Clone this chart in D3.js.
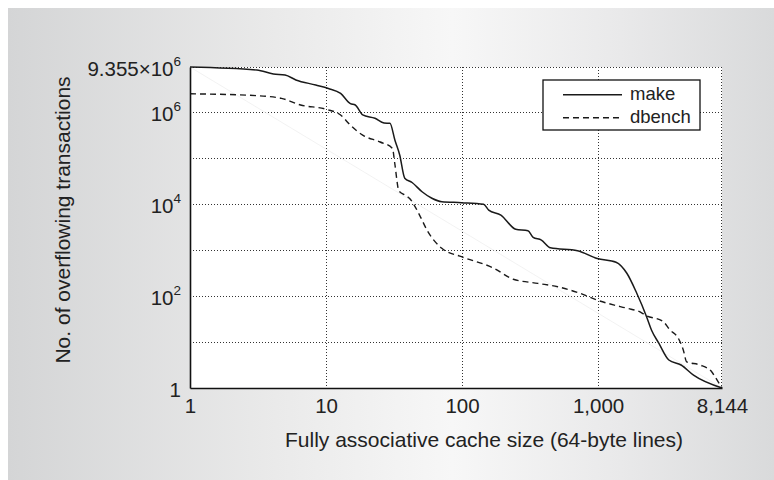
<!DOCTYPE html>
<html><head><meta charset="utf-8">
<script src="https://cdn.jsdelivr.net/npm/d3@7"></script>
<style>body{margin:0;background:#fff}svg{display:block}</style>
</head><body>
<svg id="c" width="774" height="480"></svg>
<script>
// ---- data ----
const makeX = [1, 3.1, 4.1, 5.0, 6.0, 8.4, 10.4, 12.8, 15.1, 16.4, 18.6, 22.9, 26.7, 29.5, 32.1, 34.8, 37.9, 42.9, 50.8, 60, 71, 99, 144, 157, 193, 248, 305, 333, 383, 446, 706, 985, 1355, 1627, 1924, 2275, 2472, 2800, 3311, 4075, 5030, 8144];
const makeY = [9.355e6, 8.04e6, 6.6e6, 6.27e6, 4.9e6, 3.8e6, 3.2e6, 2.5e6, 1.5e6, 1.4e6, 8.5e5, 7.2e5, 5.7e5, 5.6e5, 2.4e5, 1.15e5, 3.6e4, 2.9e4, 1.83e4, 1.32e4, 1.11e4, 1.06e4, 9.8e3, 7.3e3, 5.7e3, 2.8e3, 2.6e3, 1.87e3, 1.63e3, 1.11e3, 960, 650, 540, 310, 114, 35, 18, 9.3, 4.06, 3.16, 1.9, 1];
const dbenchX = [1, 3.1, 4.7, 6.5, 10, 12.8, 15.1, 18.6, 25, 30.8, 32, 34.3, 37.9, 41.2, 48.7, 55.2, 71, 99, 171, 238, 361, 505, 736, 985, 1318, 1627, 2090, 2213, 3015, 3380, 3890, 4230, 4480, 5610, 6840, 7230, 8144];
const dbenchY = [2.45e6, 2.23e6, 1.95e6, 1.4e6, 1.13e6, 8.5e5, 5.1e5, 3.1e5, 2.2e5, 1.6e5, 7.6e4, 1.93e4, 1.56e4, 1.3e4, 5.7e3, 2.7e3, 1.08e3, 710, 400, 230, 187, 158, 114, 81, 63, 54, 43, 38.5, 27.5, 18.2, 12, 6.7, 3.7, 3.16, 2.26, 1.76, 1];
const seriesNames = ["make", "dbench"];
const xDomain = [1, 8144];
const yDomain = [1, 9.355e6];
const xTicks = [1, 10, 100, 1000, 8144];
const xTickLabels = ["1", "10", "100", "1,000", "8,144"];
const yTicks = [1, 100, 1e4, 1e6, 9.355e6];
const yTickBase = ["1", "10", "10", "10", "9.355×10"];
const yTickExp = ["", "2", "4", "6", "6"];
const xGrid = [10, 100, 1000];
const yGrid = [10, 100, 1e3, 1e4, 1e5, 1e6];
const xTitle = "Fully associative cache size (64-byte lines)";
const yTitle = "No. of overflowing transactions";

// ---- layout ----
const W = 774, H = 480;
const m = {left: 190, right: 52, top: 67, bottom: 92};
const svg = d3.select("#c");
const font = "'Liberation Sans', Arial, Helvetica, sans-serif";

const defs = svg.append("defs");
const grad = defs.append("linearGradient").attr("id", "bg").attr("x1", "0").attr("x2", "1").attr("y1", "0").attr("y2", "0");
grad.append("stop").attr("offset", "0").attr("stop-color", "#d4d5d6");
grad.append("stop").attr("offset", "0.35").attr("stop-color", "#eaeaea");
grad.append("stop").attr("offset", "0.58").attr("stop-color", "#f7f7f7");
grad.append("stop").attr("offset", "0.8").attr("stop-color", "#e9e9ea");
grad.append("stop").attr("offset", "1").attr("stop-color", "#d9dadb");

svg.append("rect").attr("x", 0).attr("y", 0).attr("width", W).attr("height", H).attr("fill", "#fff");
svg.append("rect").attr("x", 8).attr("y", 8).attr("width", W - 8).attr("height", H - 8).attr("fill", "url(#bg)");

const x = d3.scaleLog().domain(xDomain).range([m.left, W - m.right]);
const y = d3.scaleLog().domain(yDomain).range([H - m.bottom, m.top]);

const [x0, x1] = x.range();
const [y0, y1] = y.range();

svg.append("rect").attr("x", x0).attr("y", y1).attr("width", x1 - x0).attr("height", y0 - y1).attr("fill", "#fff");

// grid
const grid = svg.append("g").attr("stroke", "#333").attr("stroke-width", 1).attr("stroke-dasharray", "1,2").attr("fill", "none");
grid.selectAll(".gx").data(xGrid).join("line")
  .attr("x1", d => Math.round(x(d)) + 0.5).attr("x2", d => Math.round(x(d)) + 0.5)
  .attr("y1", y1).attr("y2", y0);
grid.selectAll(".gy").data(yGrid).join("line")
  .attr("y1", d => Math.round(y(d)) + 0.5).attr("y2", d => Math.round(y(d)) + 0.5)
  .attr("x1", x0).attr("x2", x1);
// dotted top & right borders
grid.append("line").attr("x1", x0).attr("x2", x1).attr("y1", y1 + 0.5).attr("y2", y1 + 0.5);
grid.append("line").attr("x1", x1 - 0.5).attr("x2", x1 - 0.5).attr("y1", y1).attr("y2", y0);

// faint reference diagonal
svg.append("line")
  .attr("x1", x(xDomain[0])).attr("y1", y(yDomain[1]))
  .attr("x2", x(xDomain[1])).attr("y2", y(yDomain[0]))
  .attr("stroke", "#ececec").attr("stroke-width", 0.7);

// series
const line = d3.line().x(d => x(d[0])).y(d => y(d[1])).curve(d3.curveMonotoneX);
const makeData = makeX.map((v, i) => [v, makeY[i]]);
const dbenchData = dbenchX.map((v, i) => [v, dbenchY[i]]);
svg.append("path").datum(dbenchData).attr("d", line).attr("fill", "none")
  .attr("stroke", "#1a1a1a").attr("stroke-width", 1.4).attr("stroke-dasharray", "6,4");
svg.append("path").datum(makeData).attr("d", line).attr("fill", "none")
  .attr("stroke", "#1a1a1a").attr("stroke-width", 1.5);

// axes
const xAxis = d3.axisBottom(x).tickValues(xTicks).tickSize(0).tickPadding(10)
  .tickFormat((d, i) => xTickLabels[i]);
const gx = svg.append("g").attr("transform", `translate(0,${y0})`).call(xAxis);
gx.select(".domain").attr("stroke", "#111").attr("stroke-width", 1.6);
gx.selectAll("text").attr("font-family", font).attr("font-size", 20.5).attr("fill", "#222");

const yAxis = d3.axisLeft(y).tickValues(yTicks).tickSize(0).tickPadding(9).tickFormat(() => "");
const gy = svg.append("g").attr("transform", `translate(${x0},0)`).call(yAxis);
gy.select(".domain").attr("stroke", "#111").attr("stroke-width", 1.6);
gy.selectAll(".tick text").each(function(d, i) {
  const t = d3.select(this).attr("font-family", font).attr("font-size", 20.5).attr("fill", "#222").attr("dy", "0.42em");
  t.append("tspan").text(yTickBase[i]);
  if (yTickExp[i]) t.append("tspan").attr("font-size", 13.5).attr("dy", "-0.75em").text(yTickExp[i]);
});

// titles
svg.append("text").attr("x", 484).attr("y", 447).attr("text-anchor", "middle")
  .attr("font-family", font).attr("font-size", 21).attr("fill", "#222").text(xTitle);
svg.append("text").attr("transform", "translate(70,220) rotate(-90)").attr("text-anchor", "middle")
  .attr("font-family", font).attr("font-size", 21).attr("fill", "#222").text(yTitle);

// legend
const lg = svg.append("g");
lg.append("rect").attr("x", 543).attr("y", 80).attr("width", 157).attr("height", 50)
  .attr("fill", "#fff").attr("stroke", "#111").attr("stroke-width", 1.3);
const dashes = [null, "6,4"];
seriesNames.forEach((n, i) => {
  const ly = 94.7 + i * 23;
  lg.append("line").attr("x1", 563).attr("x2", 622).attr("y1", ly).attr("y2", ly)
    .attr("stroke", "#1a1a1a").attr("stroke-width", 1.4).attr("stroke-dasharray", dashes[i]);
  lg.append("text").attr("x", 630).attr("y", ly + 5).attr("font-family", font).attr("font-size", 18.5)
    .attr("fill", "#222").text(n);
});
</script>
</body></html>
